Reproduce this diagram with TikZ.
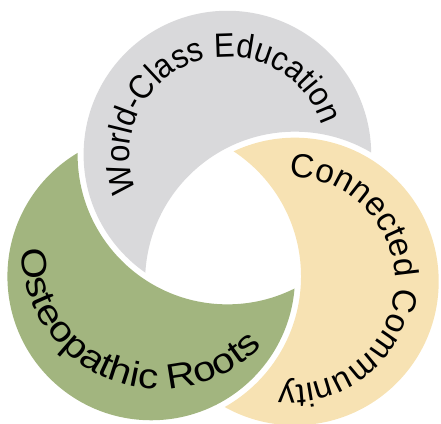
\documentclass[tikz,border=0pt]{standalone}
\usepackage{fontspec}
\setmainfont{Liberation Sans}
\newfontfamily\wideface[FakeStretch=1.15]{Liberation Sans}
\newfontfamily\narrowface[FakeStretch=0.92]{Liberation Sans}
\usetikzlibrary{calc, decorations.text}

\definecolor{greyfill}{RGB}{217,217,219}
\definecolor{yellowfill}{RGB}{247,226,179}
\definecolor{greenfill}{RGB}{162,181,127}

\begin{document}
\begin{tikzpicture}[
    x=0.025cm, y=0.025cm,
    arclbl/.style={decorate, decoration={text along path,
                   text align=center, text={#1}}}
  ]
  \useasboundingbox (0,0) rectangle (441,423);
  \def\rad{143.8}
  \def\gap{6}
  % -- centres --
  \coordinate (O) at (224.5,185.5);
  \coordinate (gr) at ($(O)+(88:83)$);
  \coordinate (ye) at ($(O)+(-32:83)$);
  \coordinate (gn) at ($(O)+(208:83)$);
  % -- crescents: own disc with the next disc cut away --
  \foreach \c/\n/\col in {gr/ye/greyfill, ye/gn/yellowfill, gn/gr/greenfill}{
    \begin{scope}
      \clip (-50,-50) -- (-50,480) -- (490,480) -- (490,-50) -- cycle
            (\n) circle (\rad+\gap);
      \fill[\col] (\c) circle (\rad);
    \end{scope}
  }
  % -- labels --
  \coordinate (grt) at (228,267.5);
  \coordinate (yet) at (291,142);
  \coordinate (gnt) at (161,174);
  \path[arclbl={|\narrowface\fontsize{24}{28}\selectfont|World-Class Education}]
    (grt) ++(209.5:98.5) arc[start angle=209.5, end angle=9.5, radius=98.5];
  \path[arclbl={|\fontsize{23.8}{28}\selectfont|Connected Community}]
    (yet) ++(97:104) arc[start angle=97, end angle=-103, radius=104];
  \path[arclbl={|\wideface\fontsize{25}{29}\selectfont|Osteopathic Roots}]
    (gnt) ++(163.25:140) arc[start angle=163.25, end angle=333.25, radius=140];
\end{tikzpicture}
\end{document}
